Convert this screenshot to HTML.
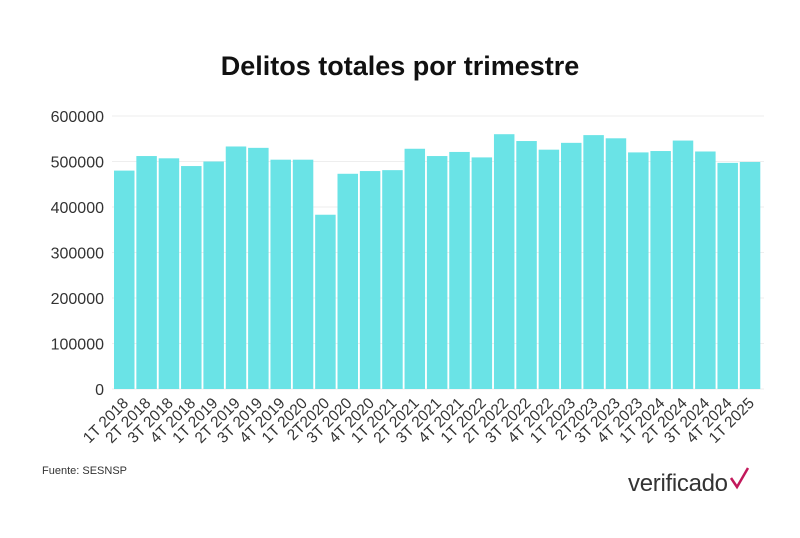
<!DOCTYPE html>
<html><head><meta charset="utf-8"><style>
body{margin:0;background:#fff;width:800px;height:533px;overflow:hidden;font-family:"Liberation Sans",sans-serif}
</style></head><body>
<svg width="800" height="533" xmlns="http://www.w3.org/2000/svg" font-family="Liberation Sans, sans-serif">
<text x="400" y="75" text-anchor="middle" font-size="27" font-weight="bold" fill="#111">Delitos totales por trimestre</text>
<g id="grid" stroke="#eeeeee" stroke-width="1"></g>
<g id="yl" font-size="16" fill="#333" text-anchor="end"></g>
<g id="bars" fill="#6ae3e6"></g>
<g id="xl" font-size="15.5" fill="#333" text-anchor="end"></g>
<text x="42" y="474" font-size="11" fill="#333">Fuente: SESNSP</text>
<text x="628" y="491" font-size="24" fill="#333" letter-spacing="-0.3">verificado</text>
<path d="M731 478 L737 487 L748 468" stroke="#c2185b" stroke-width="2.5" fill="none"/>
</svg>
<script>
const v=[480000,512000,507000,490000,500000,533000,530000,504000,504000,383000,473000,479000,481000,528000,512000,521000,509000,560000,545000,526000,541000,558000,551000,520000,523000,546000,522000,497000,499000];
const L=["1T 2018","2T 2018","3T 2018","4T 2018","1T 2019","2T 2019","3T 2019","4T 2019","1T 2020","2T2020","3T 2020","4T 2020","1T 2021","2T 2021","3T 2021","4T 2021","1T 2022","2T 2022","3T 2022","4T 2022","1T 2023","2T2023","3T 2023","4T 2023","1T 2024","2T 2024","3T 2024","4T 2024","1T 2025"];
const ns="http://www.w3.org/2000/svg",y0=389,k=273/600000,x0=114,p=22.35,w=20.5;
function el(t,a,par,txt){const e=document.createElementNS(ns,t);for(const q in a)e.setAttribute(q,a[q]);if(txt)e.textContent=txt;document.getElementById(par).appendChild(e);}
for(let i=0;i<=6;i++){const y=y0-i*100000*k;el('line',{x1:112,x2:764,y1:y,y2:y},'grid');el('text',{x:104,y:y+6},'yl',String(i*100000));}
v.forEach((d,i)=>{const h=d*k;el('rect',{x:x0+i*p,y:y0-h,width:w,height:h},'bars');
const cx=x0+i*p+w/2+5;el('text',{x:cx,y:y0+15,transform:`rotate(-45 ${cx} ${y0+15})`},'xl',L[i]);});
</script>
</body></html>
